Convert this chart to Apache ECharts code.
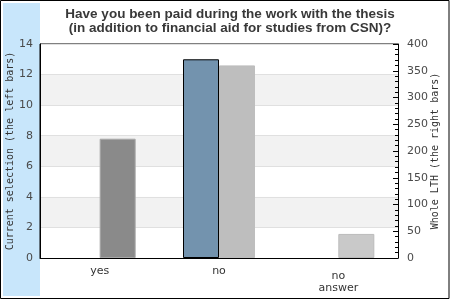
<!DOCTYPE html>
<html><head><meta charset="utf-8">
<script src="https://cdn.jsdelivr.net/npm/echarts@6/dist/echarts.min.js"></script>
<style>html,body{margin:0;padding:0;background:#fff}#c{width:450px;height:300px}</style>
</head><body><div id="c"></div>
<script>
const categories = ['yes', 'no', 'no\nanswer'];
const currentSelection = [0, 13, 0];
const wholeLTH = [223, 360, 45];
const leftTicks = [0, 2, 4, 6, 8, 10, 12, 14];
const rightTicks = [0, 50, 100, 150, 200, 250, 300, 350, 400];
const titleLines = ['Have you been paid during the work with the thesis', '(in addition to financial aid for studies from CSN)?'];
const leftName = 'Current selection (the left bars)';
const rightName = 'Whole LTH (the right bars)';

const rightColors = ['#8a8a8a', '#bebebe', '#c9c9c9'];
const rightBorders = ['#a8a8a8', '#bebebe', '#bbbbbb'];

const chart = echarts.init(document.getElementById('c'), null, {renderer: 'canvas'});
chart.setOption({
  backgroundColor: '#fff',
  animation: false,
  graphic: [
    {type: 'rect', shape: {x: 0.5, y: 0.5, width: 448.5, height: 298}, style: {fill: '#fff', stroke: '#000', lineWidth: 1}, z: -10},
    {type: 'rect', shape: {x: 3, y: 3, width: 37, height: 293}, style: {fill: '#c8e6fb'}, z: -9}
  ],
  title: {
    text: titleLines.join('\n'),
    left: 225, top: 3, textAlign: 'center',
    textStyle: {fontFamily: 'Liberation Sans, Arial', fontWeight: 'bold', fontSize: 13.5, lineHeight: 13.5, color: '#383838'}
  },
  grid: {left: 40, right: 52, top: 44, bottom: 42, containLabel: false, outerBoundsMode: 'none', show: true, borderColor: '#000', borderWidth: 1, backgroundColor: 'transparent'},
  xAxis: {
    type: 'category',
    data: categories.map((c, i) => i === 2 ? {value: c, textStyle: {padding: [5, 0, 0, 0]}} : c),
    axisLine: {lineStyle: {color: '#000', width: 1}},
    axisTick: {show: false},
    axisLabel: {fontFamily: 'DejaVu Sans', fontSize: 11, color: '#333', lineHeight: 12, margin: 7, interval: 0}
  },
  yAxis: [
    {
      type: 'value', min: leftTicks[0], max: leftTicks[leftTicks.length - 1], interval: 2,
      position: 'left',
      name: leftName, nameLocation: 'middle', nameGap: 25, nameRotate: 90, nameMoveOverlap: false,
      nameTextStyle: {fontFamily: 'DejaVu Sans Mono', fontSize: 10, color: '#333'},
      axisLine: {show: true, lineStyle: {color: '#000'}},
      axisTick: {show: false},
      axisLabel: {fontFamily: 'DejaVu Sans', fontSize: 11, color: '#4a4a4a', margin: 7},
      splitLine: {show: true, lineStyle: {color: '#e0e0e0', width: 1}},
      splitArea: {show: true, areaStyle: {color: ['#ffffff', '#f2f2f2']}}
    },
    {
      type: 'value', min: rightTicks[0], max: rightTicks[rightTicks.length - 1], interval: 50,
      position: 'right',
      name: rightName, nameLocation: 'middle', nameGap: 32, nameRotate: 90, nameMoveOverlap: false,
      nameTextStyle: {fontFamily: 'DejaVu Sans Mono', fontSize: 10, color: '#333'},
      axisLine: {show: true, lineStyle: {color: '#000'}},
      axisTick: {show: true, inside: true, length: 5, lineStyle: {color: '#000'}},
      minorTick: {show: true, splitNumber: 5, length: 3, lineStyle: {color: '#000'}},
      axisLabel: {fontFamily: 'DejaVu Sans', fontSize: 11, color: '#4a4a4a', margin: 9},
      splitLine: {show: false}
    }
  ],
  series: [
    {
      type: 'bar', yAxisIndex: 0,
      data: currentSelection.map(v => ({value: v, itemStyle: {borderWidth: v === 0 ? 0 : 1}})),
      barWidth: 36, barGap: '0%',
      itemStyle: {color: '#7393ae', borderColor: '#000', borderWidth: 1}
    },
    {
      type: 'bar', yAxisIndex: 1,
      data: wholeLTH.map((v, i) => ({value: v, itemStyle: {color: rightColors[i], borderColor: rightBorders[i], borderWidth: 1}})),
      barWidth: 36, barGap: '0%'
    }
  ]
});
</script></body></html>
